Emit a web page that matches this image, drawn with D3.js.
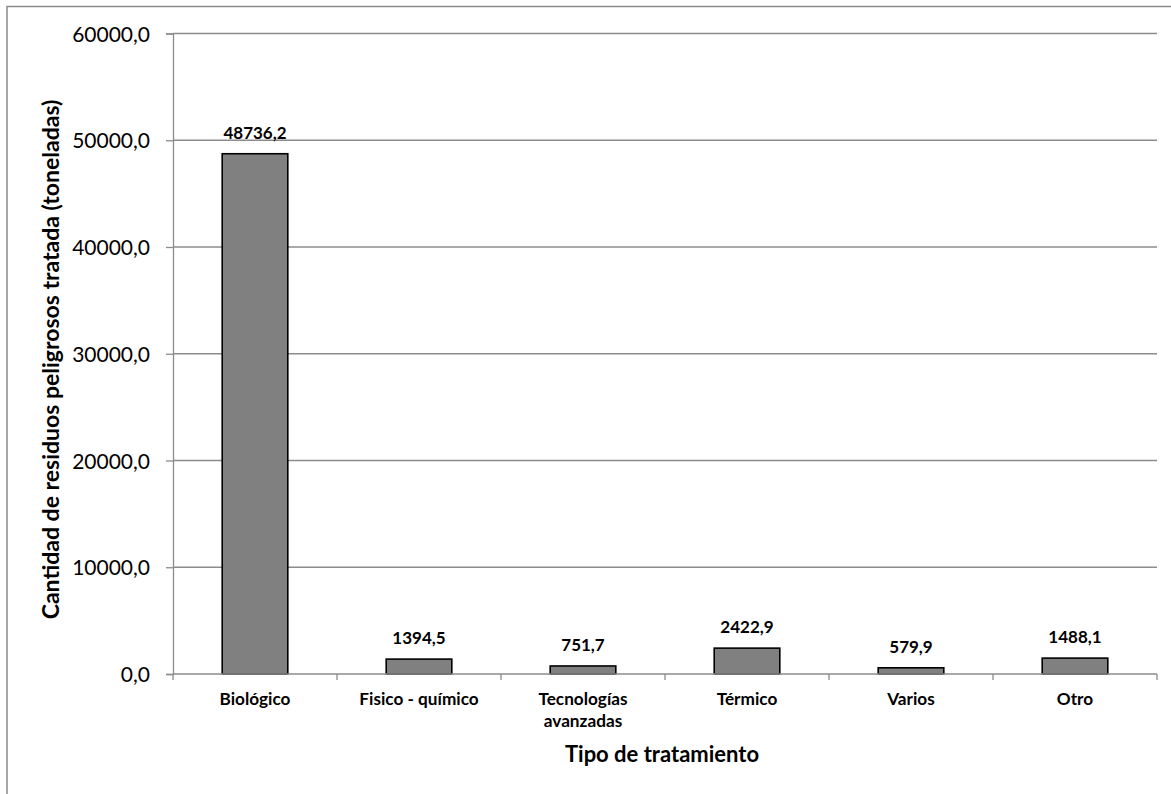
<!DOCTYPE html>
<html>
<head>
<meta charset="utf-8">
<script src="https://cdn.jsdelivr.net/npm/d3@7"></script>
<style>
  html, body { margin: 0; padding: 0; background: #fff; }
  svg { display: block; font-family: Lato, "Open Sans", sans-serif; }
</style>
</head>
<body>
<svg id="chart" width="1171" height="794"></svg>
<script>
// Hazardous waste treated, by treatment type (tonnes)
const categories = ["Biológico", "Fisico - químico", "Tecnologías avanzadas", "Térmico", "Varios", "Otro"];
const values = [48736.2, 1394.5, 751.7, 2422.9, 579.9, 1488.1];
const yTicks = [0, 10000, 20000, 30000, 40000, 50000, 60000];
const yTitle = "Cantidad de residuos peligrosos tratada (toneladas)";
const xTitle = "Tipo de tratamiento";

const fmt = v => d3.format(".1f")(v).replace(".", ",");

const svg = d3.select("#chart");
const W = 1171, H = 794;
const plot = { left: 173, right: 1157, top: 33.5, bottom: 674 };

// outer chart frame (its right and bottom edges fall outside the view)
svg.append("rect")
  .attr("x", 7).attr("y", 6.5)
  .attr("width", W + 20).attr("height", H + 20)
  .attr("fill", "#fff")
  .attr("stroke", "#8a8a8a").attr("stroke-width", 1.5);

const x = d3.scaleBand()
  .domain(categories)
  .range([plot.left, plot.right])
  .paddingInner(0.6)
  .paddingOuter(0.3);

const y = d3.scaleLinear()
  .domain([0, 60000])
  .range([plot.bottom, plot.top]);

// horizontal gridlines
svg.append("g")
  .selectAll("line")
  .data(yTicks.filter(t => t > 0))
  .join("line")
  .attr("x1", plot.left).attr("x2", plot.right)
  .attr("y1", d => y(d)).attr("y2", d => y(d))
  .attr("stroke", "#8c8c8c").attr("stroke-width", 1.3);

// y axis
const yAxis = svg.append("g")
  .attr("transform", `translate(${plot.left},0)`)
  .call(d3.axisLeft(y).tickValues(yTicks).tickFormat(fmt).tickSize(7).tickPadding(16));
yAxis.select(".domain").attr("stroke", "#8c8c8c").attr("stroke-width", 1.3);
yAxis.selectAll(".tick line").attr("stroke", "#8c8c8c").attr("stroke-width", 1.3);
yAxis.selectAll(".tick text")
  .attr("font-size", 21).attr("fill", "#000")
  .attr("font-family", "Lato, sans-serif")
  .attr("dy", "0.36em");

// bars
svg.append("g")
  .selectAll("rect")
  .data(values)
  .join("rect")
  .attr("x", (d, i) => x(categories[i]))
  .attr("y", d => y(d))
  .attr("width", x.bandwidth())
  .attr("height", d => y(0) - y(d))
  .attr("fill", "#808080")
  .attr("stroke", "#000").attr("stroke-width", 1.6);

// x axis: baseline plus ticks at the category boundaries
const boundaries = d3.range(categories.length + 1)
  .map(i => plot.left + i * x.step());
svg.append("line")
  .attr("x1", plot.left).attr("x2", plot.right)
  .attr("y1", plot.bottom).attr("y2", plot.bottom)
  .attr("stroke", "#8c8c8c").attr("stroke-width", 1.3);
svg.append("g")
  .selectAll("line")
  .data(boundaries)
  .join("line")
  .attr("x1", d => d).attr("x2", d => d)
  .attr("y1", plot.bottom).attr("y2", plot.bottom + 6)
  .attr("stroke", "#8c8c8c").attr("stroke-width", 1.3);

// value labels
svg.append("g")
  .selectAll("text")
  .data(values)
  .join("text")
  .attr("x", (d, i) => x(categories[i]) + x.bandwidth() / 2)
  .attr("y", d => y(d) - 15)
  .attr("text-anchor", "middle")
  .attr("font-size", 17).attr("font-weight", "bold")
  .text(d => fmt(d));

// category labels (long names wrap onto two lines)
const wrap = name => name === "Tecnologías avanzadas" ? ["Tecnologías", "avanzadas"] : [name];
const catG = svg.append("g")
  .selectAll("text")
  .data(categories)
  .join("text")
  .attr("x", d => x(d) + x.bandwidth() / 2)
  .attr("y", plot.bottom + 31)
  .attr("text-anchor", "middle")
  .attr("font-size", 17.2).attr("font-weight", "bold");
catG.selectAll("tspan")
  .data(d => wrap(d).map((t, j) => ({ t, j, d })))
  .join("tspan")
  .attr("x", p => x(p.d) + x.bandwidth() / 2)
  .attr("dy", p => p.j === 0 ? 0 : 22)
  .text(p => p.t);

// axis titles
svg.append("text")
  .attr("x", (plot.left + plot.right) / 2 - 3)
  .attr("y", 762)
  .attr("text-anchor", "middle")
  .attr("font-size", 22).attr("font-weight", "bold")
  .text(xTitle);

svg.append("text")
  .attr("transform", `translate(59,${359.5}) rotate(-90)`)
  .attr("text-anchor", "middle")
  .attr("font-size", 23).attr("font-weight", "bold")
  .text(yTitle);
</script>
</body>
</html>
